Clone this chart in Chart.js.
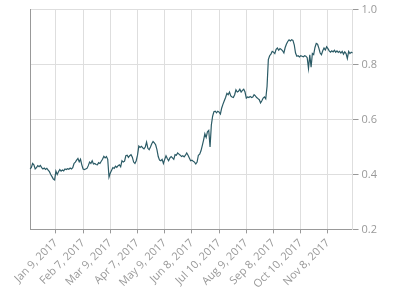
<!DOCTYPE html>
<html>
<head>
<meta charset="utf-8">
<script src="https://cdn.jsdelivr.net/npm/chart.js@4"></script>
<style>
  html, body { margin: 0; padding: 0; background: #fff; }
</style>
</head>
<body>
<canvas id="mylinechart" width="400" height="300"></canvas>
<script>
// one value per trading day, Dec 2016 - Dec 2017
const values = [
  0.42, 0.425, 0.44, 0.435, 0.42, 0.425, 0.432, 0.428, 0.433, 0.425,
  0.42, 0.423, 0.418, 0.422, 0.416, 0.41, 0.40, 0.392, 0.383, 0.38,
  0.412, 0.40, 0.41, 0.418, 0.412, 0.416, 0.413, 0.42, 0.418, 0.421,
  0.419, 0.423, 0.42, 0.425, 0.44, 0.445, 0.452, 0.458, 0.446, 0.455,
  0.435, 0.42, 0.418, 0.42, 0.422, 0.432, 0.445, 0.44, 0.45, 0.438,
  0.44, 0.436, 0.435, 0.443, 0.44, 0.448, 0.455, 0.466, 0.46, 0.465,
  0.455, 0.39, 0.405, 0.415, 0.425, 0.422, 0.43, 0.426, 0.432, 0.435,
  0.428, 0.45, 0.445, 0.448, 0.468, 0.47, 0.462, 0.468, 0.472, 0.463,
  0.445, 0.44, 0.45, 0.47, 0.503, 0.498, 0.502, 0.497, 0.493, 0.50,
  0.518, 0.495, 0.49, 0.50, 0.512, 0.52, 0.515, 0.508, 0.49, 0.465,
  0.452, 0.45, 0.455, 0.44, 0.455, 0.468, 0.458, 0.45, 0.46, 0.465,
  0.46, 0.455, 0.472, 0.47, 0.478, 0.474, 0.47, 0.465, 0.468, 0.464,
  0.47, 0.478, 0.47, 0.46, 0.45, 0.452, 0.448, 0.445, 0.438, 0.445,
  0.47, 0.474, 0.486, 0.505, 0.525, 0.548, 0.535, 0.555, 0.56, 0.50,
  0.58, 0.612, 0.628, 0.63, 0.624, 0.63, 0.627, 0.62, 0.642, 0.656,
  0.668, 0.68, 0.695, 0.69, 0.70, 0.686, 0.682, 0.68, 0.69, 0.708,
  0.70, 0.703, 0.71, 0.70, 0.706, 0.71, 0.70, 0.678, 0.682, 0.68,
  0.684, 0.68, 0.682, 0.69, 0.686, 0.68, 0.676, 0.672, 0.66, 0.668,
  0.678, 0.682, 0.675, 0.72, 0.818, 0.832, 0.838, 0.848, 0.845, 0.84,
  0.855, 0.86, 0.852, 0.858, 0.855, 0.85, 0.842, 0.862, 0.875, 0.884,
  0.89, 0.886, 0.89, 0.888, 0.872, 0.842, 0.83, 0.832, 0.828, 0.832,
  0.83, 0.828, 0.832, 0.83, 0.825, 0.786, 0.835, 0.79, 0.84, 0.836,
  0.862, 0.877, 0.874, 0.86, 0.842, 0.836, 0.85, 0.86, 0.853, 0.865,
  0.858, 0.85, 0.845, 0.85, 0.846, 0.852, 0.845, 0.85, 0.844, 0.848,
  0.842, 0.848, 0.838, 0.846, 0.84, 0.822, 0.848, 0.84, 0.845, 0.842
]

// labelled days, every 21st trading day starting at index 20
const tickLabels = ['Jan 9, 2017', 'Feb 7, 2017', 'Mar 9, 2017', 'Apr 7, 2017', 'May 9, 2017',
  'Jun 8, 2017', 'Jul 10, 2017', 'Aug 9, 2017', 'Sep 8, 2017', 'Oct 10, 2017', 'Nov 8, 2017']
const firstTick = 20
const tickStep = 21
const yTicks = [0.2, 0.4, 0.6, 0.8, 1.0]

const days = values.map(function(v, i) { return i })

function dayLabel(index) {
    if (index < firstTick || (index - firstTick) % tickStep !== 0) return null
    return tickLabels[(index - firstTick) / tickStep] || null
}

const tickFont = { family: 'Open Sans', size: 11 }

new Chart(document.getElementById('mylinechart'), {
    type: 'line',
    data: {
        labels: days,
        datasets: [{
            data: values,
            borderColor: '#2b5b66',
            borderWidth: 1.2,
            pointRadius: 0,
            tension: 0,
            fill: false
        }]
    },
    options: {
        responsive: false,
        animation: false,
        devicePixelRatio: 1,
        layout: { padding: { left: 30, right: 20, top: 0, bottom: 6 } },
        plugins: { legend: { display: false }, tooltip: { enabled: false } },
        scales: {
            x: {
                type: 'category',
                grid: { color: '#dedede', tickColor: '#999', tickLength: 4 },
                border: { color: '#999' },
                ticks: {
                    autoSkip: false,
                    minRotation: 45,
                    maxRotation: 45,
                    padding: 3,
                    color: '#999',
                    font: tickFont,
                    callback: function(val, index) { return dayLabel(index) }
                }
            },
            y: {
                position: 'right',
                min: 0.2,
                max: 1.0,
                afterBuildTicks: function(axis) {
                    axis.ticks = yTicks.map(function(v) { return { value: v } })
                },
                grid: { color: '#dedede', tickColor: '#999', tickLength: 6 },
                border: { color: '#dedede' },
                ticks: {
                    padding: 3,
                    color: '#999',
                    font: tickFont,
                    callback: function(v) { return v.toFixed(1) }
                }
            },
            yLeft: {
                position: 'left',
                min: 0.2,
                max: 1.0,
                grid: { display: false, drawTicks: false },
                border: { color: '#999' },
                ticks: { display: false }
            }
        }
    }
})
</script>
</body>
</html>
